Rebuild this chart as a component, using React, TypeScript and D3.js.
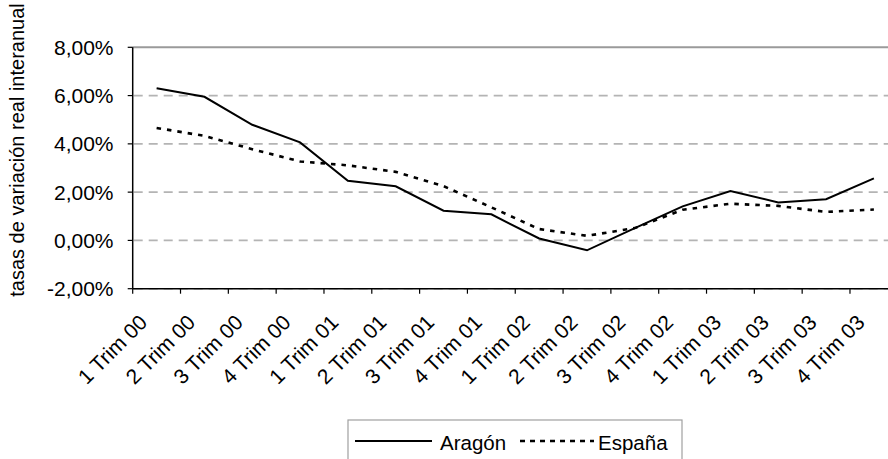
import React from "react";
import * as d3 from "d3";

const categories = [
  "1 Trim 00", "2 Trim 00", "3 Trim 00", "4 Trim 00",
  "1 Trim 01", "2 Trim 01", "3 Trim 01", "4 Trim 01",
  "1 Trim 02", "2 Trim 02", "3 Trim 02", "4 Trim 02",
  "1 Trim 03", "2 Trim 03", "3 Trim 03", "4 Trim 03",
];
const aragon = [6.3, 5.95, 4.79, 4.06, 2.47, 2.24, 1.23, 1.08, 0.08, -0.41, 0.51, 1.41, 2.05, 1.57, 1.71, 2.57];
const espana = [4.66, 4.33, 3.78, 3.27, 3.11, 2.84, 2.25, 1.37, 0.47, 0.19, 0.51, 1.27, 1.52, 1.43, 1.18, 1.28];
const yTicks = [-2, 0, 2, 4, 6, 8];
const seriesNames = ["Aragón", "España"];
const yTitle = "tasas de variación real interanual";

const W = 888, H = 459;
const left = 132.7, right = 897.8, top = 47.3, bottom = 288.7;
const FONT = "'Liberation Sans', Arial, sans-serif";

export default function App() {
  const x = d3.scaleBand<string>().domain(categories).range([left, right]).paddingInner(0).paddingOuter(0);
  const y = d3.scaleLinear().domain([-2, 8]).range([bottom, top]);
  const cx = (c: string) => (x(c) as number) + x.bandwidth() / 2;
  const line = d3.line<number>().x((_, i) => cx(categories[i])).y((d) => y(d));
  const fmt = (v: number) => v.toFixed(2).replace(".", ",") + "%";

  const legendLeft = 348, legendTop = 420, legendRight = 682;
  const legY = 441;

  return (
    <svg width={W} height={H} style={{ position: "absolute", left: 0, top: 0, background: "#fff" }} fontFamily={FONT}>
      <rect x={0} y={0} width={W} height={H} fill="#fff" />
      {/* gridlines */}
      {yTicks.filter((t) => t !== 8).map((t) => (
        <line key={"g" + t} x1={left + 1} x2={right} y1={y(t)} y2={y(t)} stroke="#b4b4b4" strokeWidth={1.6} strokeDasharray="9,6" />
      ))}
      {/* top border */}
      <line x1={left} x2={right} y1={y(8)} y2={y(8)} stroke="#9a9a9a" strokeWidth={2} />
      {/* y axis */}
      <line x1={left} x2={left} y1={top} y2={bottom} stroke="#000" strokeWidth={1.5} />
      {yTicks.map((t) => (
        <g key={"yt" + t}>
          <line x1={left - 5} x2={left} y1={y(t)} y2={y(t)} stroke="#000" strokeWidth={1.2} />
          <text x={113.5} y={y(t) + 7.5} textAnchor="end" fontSize={21} fill="#000">{fmt(t)}</text>
        </g>
      ))}
      {/* x axis */}
      <line x1={left} x2={right} y1={bottom} y2={bottom} stroke="#000" strokeWidth={1.5} />
      {categories.map((c) => (
        <line key={"xt" + c} x1={x(c) as number} x2={x(c) as number} y1={bottom} y2={bottom + 5} stroke="#000" strokeWidth={1.2} />
      ))}
      {categories.map((c) => (
        <text key={"xl" + c} transform={`translate(${cx(c) - 8},${bottom + 35}) rotate(-45)`} textAnchor="end" fontSize={21} fill="#000">{c}</text>
      ))}
      {/* y title */}
      <text transform={`translate(24,150) rotate(-90)`} textAnchor="middle" fontSize={20} fill="#000">{yTitle}</text>
      {/* series */}
      <path d={line(espana) || ""} fill="none" stroke="#000" strokeWidth={2.6} strokeDasharray="4.5,6" />
      <path d={line(aragon) || ""} fill="none" stroke="#000" strokeWidth={2} />
      {/* legend */}
      <rect x={legendLeft} y={legendTop} width={legendRight - legendLeft} height={60} fill="#fff" stroke="#a0a0a0" strokeWidth={1.2} />
      <line x1={355} x2={432} y1={legY} y2={legY} stroke="#000" strokeWidth={2} />
      <text x={440} y={450} fontSize={20.5} fill="#000">{seriesNames[0]}</text>
      <line x1={520} x2={594} y1={legY} y2={legY} stroke="#000" strokeWidth={2.6} strokeDasharray="5,5" />
      <text x={598} y={450} fontSize={20.5} fill="#000">{seriesNames[1]}</text>
    </svg>
  );
}
